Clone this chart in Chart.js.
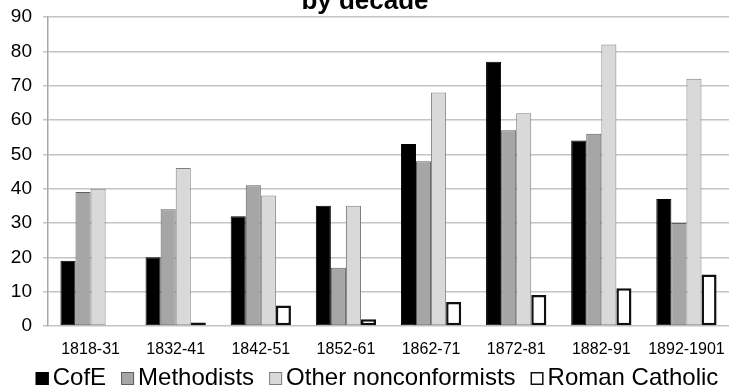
<!DOCTYPE html>
<html>
<head>
<meta charset="utf-8">
<script src="https://cdn.jsdelivr.net/npm/chart.js@4/dist/chart.umd.min.js"></script>
<style>
  html, body { margin: 0; padding: 0; background: #fff; }
  #wrap { width: 729px; height: 390px; }
</style>
</head>
<body>
<div id="wrap"><canvas id="c" width="729" height="390"></canvas></div>
<script>
// Decades shown along the x axis
const decades = ['1818-31', '1832-41', '1842-51', '1852-61', '1862-71', '1872-81', '1882-91', '1892-1901'];

// Counts per denomination, one value per decade
const cofe = [19, 20, 32, 35, 53, 77, 54, 37];
const methodists = [39, 34, 41, 17, 48, 57, 56, 30];
const otherNonconformists = [40, 46, 38, 35, 68, 62, 82, 72];
const romanCatholic = [0, 1, 6, 2, 7, 9, 11, 15];

// Value axis tick labels
const yTicks = [0, 10, 20, 30, 40, 50, 60, 70, 80, 90];

const titleText = 'by decade';
const FONT = '"Liberation Sans", Arial, sans-serif';

// Title line drawn at the very top of the canvas
const titlePlugin = {
  id: 'topTitle',
  afterDraw(chart) {
    const ctx = chart.ctx;
    ctx.save();
    ctx.font = 'bold 26px ' + FONT;
    ctx.fillStyle = '#000';
    ctx.textAlign = 'center';
    ctx.textBaseline = 'alphabetic';
    ctx.fillText(titleText, 365, 9);
    ctx.restore();
  }
};

// Compact legend row below the axis labels
const legendPlugin = {
  id: 'compactLegend',
  afterDraw(chart) {
    const ctx = chart.ctx;
    const box = 13, gapText = 4, gapItem = 15;
    ctx.save();
    ctx.font = '24px ' + FONT;
    const items = chart.data.datasets.map(ds => ({
      ds, w: ctx.measureText(ds.label).width
    }));
    const total = items.reduce((a, it) => a + box + gapText + it.w, 0) + gapItem * (items.length - 1);
    let x = 377 - total / 2;
    const boxTop = 372, baseline = 385;
    items.forEach(it => {
      const ds = it.ds;
      const bw = Math.min(ds.borderWidth, 1.5);
      ctx.fillStyle = ds.backgroundColor;
      ctx.fillRect(x, boxTop, box, box);
      ctx.lineWidth = bw;
      ctx.strokeStyle = ds.borderColor;
      ctx.strokeRect(x + bw / 2, boxTop + bw / 2, box - bw, box - bw);
      ctx.fillStyle = '#000';
      ctx.textAlign = 'left';
      ctx.textBaseline = 'alphabetic';
      ctx.fillText(ds.label, x + box + gapText, baseline);
      x += box + gapText + it.w + gapItem;
    });
    ctx.restore();
  }
};

new Chart(document.getElementById('c'), {
  type: 'bar',
  data: {
    labels: decades,
    datasets: [
      { label: 'CofE', data: cofe, backgroundColor: '#000000', borderColor: '#000000', borderWidth: 1 },
      { label: 'Methodists', data: methodists, backgroundColor: '#a6a6a6', borderColor: '#5f5f5f', borderWidth: 1 },
      { label: 'Other nonconformists', data: otherNonconformists, backgroundColor: '#d9d9d9', borderColor: '#7f7f7f', borderWidth: 1 },
      { label: 'Roman Catholic', data: romanCatholic, backgroundColor: '#ffffff', borderColor: '#111111', borderWidth: 2.5 }
    ]
  },
  options: {
    responsive: false,
    animation: false,
    devicePixelRatio: 1,
    layout: { padding: { top: 17, right: -2, bottom: 34, left: 0 } },
    datasets: {
      bar: { categoryPercentage: 0.708, barPercentage: 1.0, borderSkipped: false }
    },
    plugins: {
      legend: { display: false },
      title: { display: false },
      tooltip: { enabled: false }
    },
    scales: {
      x: {
        grid: { display: false, drawTicks: false },
        border: { display: false },
        ticks: {
          color: '#000',
          font: { family: FONT, size: 16 },
          padding: 14,
          maxRotation: 0,
          autoSkip: false
        },
        afterFit(scale) {
          scale.height = 30;
          scale.paddingLeft = 0;
          scale.paddingRight = 0;
        }
      },
      y: {
        min: 0,
        max: 90,
        afterBuildTicks(scale) { scale.ticks = yTicks.map(v => ({ value: v })); },
        grid: { color: '#c4c4c4', lineWidth: 1.5, tickLength: 5, drawTicks: true },
        border: { display: true, color: '#a8a8a8', width: 1.5 },
        ticks: {
          color: '#000',
          font: { family: FONT, size: 19 },
          padding: 11
        },
        afterFit(scale) {
          scale.width = 48;
          scale.paddingTop = 0;
          scale.paddingBottom = 0;
        }
      }
    }
  },
  plugins: [titlePlugin, legendPlugin]
});
</script>
</body>
</html>
